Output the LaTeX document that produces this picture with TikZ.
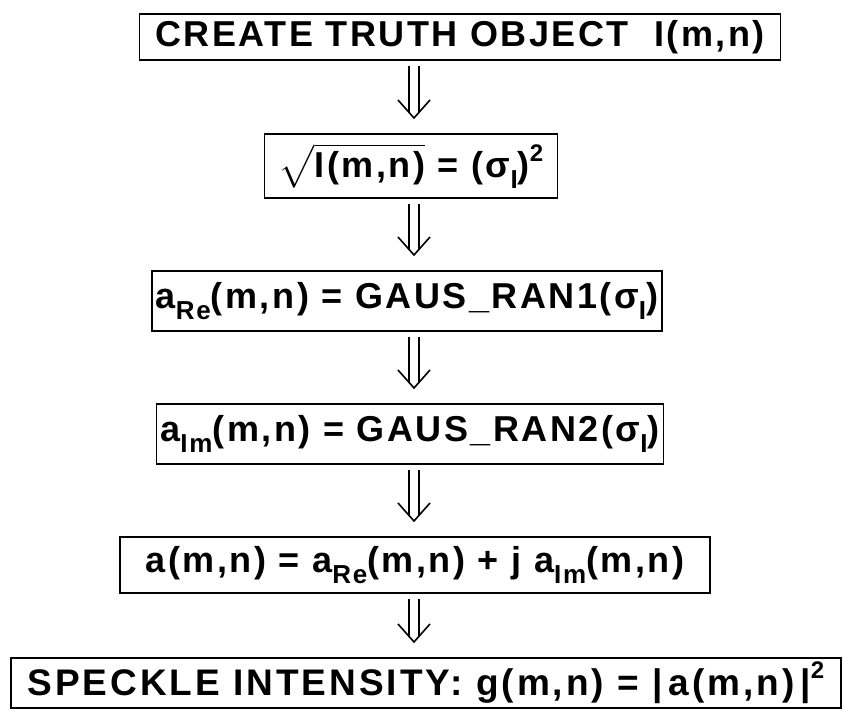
\documentclass[tikz,border=0pt]{standalone}
\usepackage{amsmath,amssymb}
\usepackage{fontspec}
\setmainfont{Liberation Sans}
\usepackage{tikz}
\usetikzlibrary{arrows.meta}

\newfontfamily\boxfont[LetterSpace=7]{Liberation Sans Bold}
\newfontfamily\wideboxfont[LetterSpace=8]{Liberation Sans Bold}
\newcommand{\lowsub}[1]{\raisebox{-0.6ex}{\fontsize{26}{26}\selectfont #1}}
\newcommand{\highsup}[1]{\raisebox{0.85ex}{\fontsize{24}{24}\selectfont #1}}

\tikzset{
  stepbox/.style={draw, line width=1.6pt, inner xsep=4pt, inner ysep=0pt, font=\fontsize{36}{38}\selectfont\boxfont},
  flow/.style={draw=white, line width=1pt, shorten <=5pt, shorten >=14pt,
    -{Straight Barb[color=black, line width=1.6pt, length=18pt, width=32pt]},
    preaction={draw=black, double=white, double distance=8pt, line width=1.6pt, arrows=-, shorten >=20pt}}
}

\begin{document}
\begin{tikzpicture}[x=1pt,y=-1pt]
\useasboundingbox (0,0) rectangle (844,711);
\coordinate (axis) at (414,0);
\node[stepbox, minimum width=641pt, minimum height=46pt] (truth) at (460,37) {CREATE TRUTH OBJECT\ \ I(m,n)};
\node[stepbox, minimum width=293pt, minimum height=64pt] (sigma) at (411,166) {$\sqrt{\text{\boxfont I(m,n)}}$ = (σ\lowsub{I})\highsup{2}};
\node[stepbox, minimum height=60pt] (real) at (407,301) {a\lowsub{Re}(m,n) = GAUS\_RAN1(σ\lowsub{I})};
\node[stepbox, minimum height=60pt] (imag) at (410,434) {a\lowsub{Im}(m,n) = GAUS\_RAN2(σ\lowsub{I})};
\node[stepbox, minimum width=590pt, minimum height=56pt] (ampl) at (415,565) {a(m,n)\ = a\lowsub{Re}(m,n)\ + j a\lowsub{Im}(m,n)};
\node[stepbox, minimum width=830pt, minimum height=50pt, font=\fontsize{37}{39}\selectfont\wideboxfont] (speckle) at (426,683) {SPECKLE INTENSITY: g(m,n) = |\,a(m,n)\,|\highsup{2}};

\draw[flow] (axis |- truth.south) -- (axis |- sigma.north);
\draw[flow] (axis |- sigma.south) -- (axis |- real.north);
\draw[flow] (axis |- real.south) -- (axis |- imag.north);
\draw[flow] (axis |- imag.south) -- (axis |- ampl.north);
\draw[flow] (axis |- ampl.south) -- (axis |- speckle.north);
\end{tikzpicture}
\end{document}
